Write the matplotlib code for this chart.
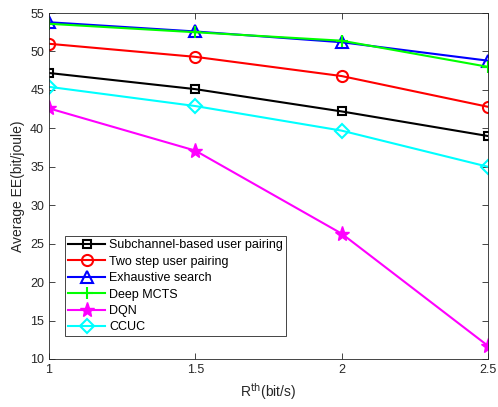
import matplotlib
matplotlib.use('Agg')
import matplotlib.pyplot as plt

r_th = [1, 1.5, 2, 2.5]
subchannel = [47.2, 45.1, 42.2, 39.0]
two_step = [51.0, 49.3, 46.8, 42.8]
exhaustive = [53.8, 52.6, 51.2, 48.8]
deep_mcts = [53.6, 52.5, 51.4, 48.0]
dqn = [42.6, 37.1, 26.3, 11.7]
ccuc = [45.4, 42.9, 39.7, 35.0]

labels = ['Subchannel-based user pairing', 'Two step user pairing',
          'Exhaustive search', 'Deep MCTS', 'DQN', 'CCUC']

plt.rcParams['font.family'] = ['Liberation Sans', 'DejaVu Sans']

fig = plt.figure(figsize=(4.98, 4.07), dpi=100)
ax = fig.add_axes([0.0984, 0.118, 0.8816, 0.85])

ax.plot(r_th, subchannel, 'k-s', lw=1.5, ms=6, mfc='none', mew=1.5, label=labels[0])
ax.plot(r_th, two_step, 'r-o', lw=1.5, ms=8, mfc='none', mew=1.5, label=labels[1])
ax.plot(r_th, exhaustive, 'b-^', lw=1.5, ms=9, mfc='none', mew=1.5, label=labels[2])
ax.plot(r_th, deep_mcts, '-+', color='#00ff00', lw=1.5, ms=9, mew=1.5, label=labels[3])
ax.plot(r_th, dqn, '-*', color='magenta', lw=1.5, ms=11, mew=1, label=labels[4])
ax.plot(r_th, ccuc, '-D', color='cyan', lw=1.5, ms=7, mfc='none', mew=1.5, label=labels[5])

ax.set_xlim(1, 2.5)
ax.set_ylim(10, 55)
ax.set_xticks([1, 1.5, 2, 2.5])
ax.set_xticklabels(['1', '1.5', '2', '2.5'])
ax.set_yticks(range(10, 56, 5))
ax.tick_params(direction='in', top=True, right=True, labelsize=9, colors='#262626',
               length=4, width=0.6)
for s in ax.spines.values():
    s.set_color('#262626')
    s.set_linewidth(0.6)

ax.set_xlabel('R$^{\\mathrm{th}}$(bit/s)', fontsize=10, color='#262626')
ax.set_ylabel('Average EE(bit/joule)', fontsize=10, color='#262626')

leg = ax.legend(loc='lower left', bbox_to_anchor=(0.036, 0.065), fontsize=9,
                fancybox=False, edgecolor='#262626', framealpha=1,
                handlelength=3.0, borderpad=0.25, labelspacing=0.35,
                handletextpad=0.3, borderaxespad=0)
leg.get_frame().set_linewidth(0.6)

fig.savefig('out.png', dpi=100)
